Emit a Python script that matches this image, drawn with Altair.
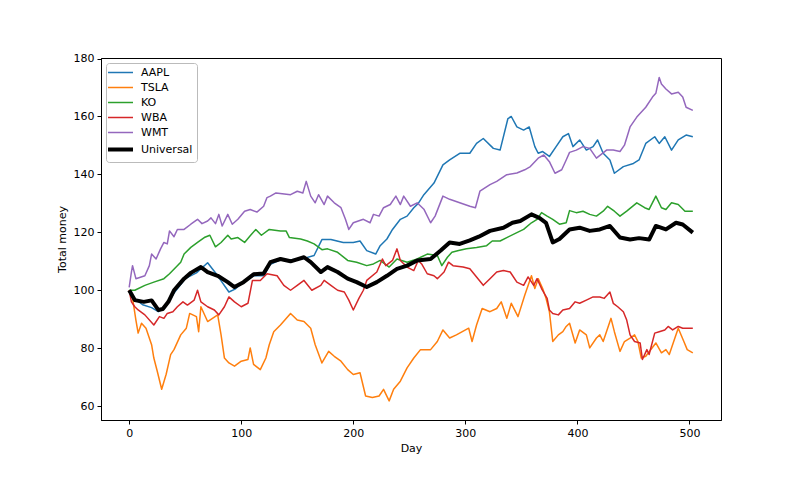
import altair as alt
import pandas as pd

SERIES = ["AAPL", "TSLA", "KO", "WBA", "WMT", "Universal"]
COLORS = ["#1f77b4", "#ff7f0e", "#2ca02c", "#d62728", "#9467bd", "#000000"]

AAPL = [(0,100),(5,97),(12,95),(20,94),(26,92.6),(32,94),(40,99),(50,104),(60,106),(70,109.5),(78,105.5),(89,99.4),(95,100.5),(102,103),(111,105),(120,105),(126,109),(135,110.5),(145,110.5),(156,111),(165,112),(172,117.5),(180,117.5),(191,116.5),(200,116.5),(206,117),(212,113.7),(220,112.5),(224,115.4),(230,117.7),(235,121),(242,124.5),(248,125.6),(254,128.5),(258,130),(263,133),(272,137),(280,143.3),(286,145),(295,147.3),(304,147.3),(310,150.7),(316,152.4),(325,149),(331,148.4),(338,159.3),(341,160),(346,156.4),(352,155.3),(357,156.4),(362,149.6),(365,147.3),(369,147.9),(375,146.2),(381,149.6),(387,153),(392,154.1),(396,149.6),(402,151.9),(408,148.4),(414,149.6),(418,151.9),(423,147.3),(429,145),(433,140.4),(441,142.7),(450,143.8),(455,145),(461,150.7),(469,153),(473,150.7),(478,153),(484,148.4),(490,151.9),(497,153.6),(503,153)]

TSLA = [(0,100),(3,97.3),(6,89.7),(8,85.2),(11,88.6),(15,86.9),(20,81.2),(22,76.6),(25,72.1),(29,65.8),(33,71),(37,77.8),(40,79.5),(46,84.6),(51,86.9),(54,92),(60,90.9),(62,85.7),(64,94.3),(70,89.2),(79,91.5),(82,84.6),(85,76.6),(89,74.9),(94,73.8),(100,75.5),(106,76.1),(108,80.1),(111,74.4),(117,72.6),(122,76.6),(125,81.2),(129,85.7),(135,88),(144,92),(150,89.7),(156,89.2),(162,86.9),(166,81.2),(172,74.9),(178,78.9),(183,77.2),(189,75.5),(195,72.6),(200,70.9),(206,71.5),(211,63.5),(217,63),(223,63.5),(227,65.8),(232,61.8),(236,65.8),(242,68.6),(248,73.2),(254,76.6),(260,79.5),(263,79.5),(269,79.5),(275,82.3),(280,86.3),(286,83.5),(292,84.6),(303,86.9),(306,82.3),(310,88),(315,93.7),(322,92.6),(328,93.7),(332,96),(337,90.3),(341,95.5),(347,90.9),(353,98.3),(359,105),(362,100.6),(365,104),(369,100.6),(372,97.2),(375,92.6),(378,82.3),(383,84.6),(387,85.7),(390,87.5),(393,88.6),(398,81.8),(402,86.3),(408,84.6),(411,80.1),(417,83.5),(420,84.6),(423,82.3),(430,90.3),(433,85.7),(438,78.9),(442,82.3),(447,83.5),(451,84.6),(454,82.3),(457,76.6),(461,77.2),(470,81.8),(475,78.4),(479,79.5),(482,77.8),(487,83.5),(490,86.9),(495,82.3),(498,79.5),(503,78.4)]

KO = [(0,100),(5,100),(14,101.7),(22,102.8),(31,104),(36,105.7),(46,109.7),(49,112.5),(55,114.8),(61,116.5),(67,118.2),(72,119),(77,115),(82,116.5),(88,119),(91,117.7),(97,118.2),(103,116.5),(108,118.8),(113,121),(118,119),(125,121),(135,120.5),(140,120.5),(143,118.2),(153,117.7),(159,117),(165,116),(172,114),(177,114.3),(186,113.1),(195,110.3),(203,109.7),(212,108.5),(218,109.1),(224,110.3),(232,108),(239,110.8),(248,109.7),(257,110.8),(266,112.5),(275,112),(279,108.5),(284,111.4),(288,113.1),(294,113.7),(301,114.3),(310,114.8),(319,115.4),(324,117),(331,117),(337,118.2),(346,119.9),(352,121),(359,123.3),(364,124.5),(368,126.8),(373,125.6),(378,124.5),(384,122.8),(390,123.3),(393,127.5),(399,126.8),(405,127.3),(411,126.2),(417,125.6),(423,127.3),(427,129),(433,127.3),(438,125.6),(444,127.3),(453,130.2),(460,128.5),(464,127.9),(470,132.5),(475,128.5),(479,127.9),(484,130.2),(490,129.6),(496,127.3),(503,127.3)]

WBA = [(0,100),(2,96),(5,94.3),(8,93.2),(14,91.5),(22,88),(27,90.9),(31,90.3),(34,92),(39,92.6),(43,94.3),(48,96),(52,94.9),(58,96.6),(61,100),(64,96),(70,94.3),(76,93.2),(80,91.5),(85,94.3),(89,97.7),(94,96),(100,94.3),(106,95.5),(110,103.4),(117,103.4),(123,105.7),(132,105),(138,101.7),(144,100),(150,101.7),(156,103.4),(163,100),(171,101.7),(174,103.4),(180,101.7),(186,100),(192,99.4),(196,96.6),(200,93.2),(205,97.2),(209,100),(212,103.4),(221,106.3),(226,110.8),(229,108.5),(235,110.3),(239,114.3),(242,110.3),(248,108),(254,106.8),(258,110.3),(261,109.1),(266,105.7),(272,105),(275,104),(281,106.3),(285,109.7),(289,108.5),(298,108),(304,107.4),(310,104.6),(316,101.7),(322,104),(328,106.3),(334,106.8),(340,106.3),(346,102.8),(352,101.7),(356,104.6),(361,101.7),(364,104),(368,100.6),(373,97.2),(375,93.2),(378,92),(383,91.5),(387,93.2),(393,93.7),(398,96),(402,95.5),(408,96.6),(414,97.7),(420,97.7),(424,97.2),(429,99.4),(432,95.5),(436,94.3),(441,92.6),(444,89.7),(447,84.6),(451,82.3),(456,81.8),(458,76.1),(462,79.5),(464,77.8),(469,85.2),(473,85.7),(478,86.3),(481,87.5),(485,86.3),(490,87.5),(494,86.9),(503,86.9)]

WMT = [(0,101),(2,106.3),(3,108.5),(6,104),(14,105),(18,108.5),(20,112.5),(24,110.8),(28,114.3),(31,116.5),(34,116),(36,120.5),(40,118.5),(43,121),(49,121),(55,122.8),(61,124.5),(65,123),(70,123.9),(73,125),(77,123),(80,126.2),(83,122.2),(88,126.2),(92,122.8),(97,124.5),(103,127.3),(108,127.9),(114,127),(120,129),(123,132),(126,132.5),(131,133.6),(144,133),(150,134.2),(155,133.6),(158,137.6),(162,132.5),(166,130.2),(169,133),(174,129.6),(177,132.5),(183,130.2),(189,128.5),(193,124.5),(196,121),(200,123.3),(209,124.5),(215,123.3),(218,126.2),(223,125.6),(227,128.5),(233,129.6),(238,132.5),(242,129.6),(245,132.5),(251,129),(257,130.2),(263,128),(269,123.3),(273,125.6),(280,132.5),(286,131.4),(295,130.2),(304,129),(309,128.5),(313,134.2),(322,136.5),(328,137.6),(337,139.9),(346,140.5),(353,141.6),(358,142.7),(365,145.6),(370,146.7),(375,144.4),(380,140.4),(386,141.6),(390,145),(393,147.6),(399,148.4),(405,149.6),(411,149),(417,145.6),(426,148.4),(432,148.4),(438,147.9),(442,150.1),(447,156.4),(453,159.8),(461,163.2),(467,166.7),(470,168),(473,173.5),(475,171.2),(479,169.5),(484,167.8),(490,168.4),(494,166.7),(497,163.2),(503,162.1)]

UNIVERSAL = [(0,100),(5,96.6),(13,96),(20,96.5),(26,93.2),(30,93.5),(35,96),(40,100),(49,104),(55,106),(64,108),(70,106.3),(79,105),(88,102.8),(94,101.1),(102,102.8),(111,105.5),(120,105.8),(126,109.7),(135,110.8),(144,110),(156,111.4),(162,109.7),(171,106.3),(177,108),(186,106.3),(195,104),(203,102.8),(212,101.1),(221,102.8),(230,105),(239,107.4),(248,108.5),(257,110.3),(269,110.8),(278,113.7),(286,116.5),(295,116),(304,117.2),(312,118.5),(322,120.5),(334,121.6),(342,123.3),(349,123.9),(359,126.2),(366,125),(372,123.3),(378,116.5),(384,117.7),(393,121),(402,121.6),(411,120.5),(420,121),(429,122.2),(438,118.2),(447,117.5),(455,118),(464,117.5),(470,122.2),(479,121),(488,123.3),(494,122.7),(503,119.9)]

X_TICKS = [0, 100, 200, 300, 400, 500]
Y_TICKS = [60, 80, 100, 120, 140, 160, 180]

rows = []
for name, pts in zip(SERIES, [AAPL, TSLA, KO, WBA, WMT, UNIVERSAL]):
    for d, v in pts:
        rows.append({"series": name, "day": d, "money": v})
df = pd.DataFrame(rows)

FONT = "DejaVu Sans"

x = alt.X("day:Q", scale=alt.Scale(domain=[-25.15, 528.15], nice=False, zero=False),
          axis=alt.Axis(values=X_TICKS, title="Day", titlePadding=4))
y = alt.Y("money:Q", scale=alt.Scale(domain=[55.2, 180.2], nice=False, zero=False),
          axis=alt.Axis(values=Y_TICKS, title="Total money", titlePadding=6))
color = alt.Color(
    "series:N",
    scale=alt.Scale(domain=SERIES, range=COLORS),
    legend=alt.Legend(
        title=None,
        symbolStrokeWidth=alt.ExprRef("datum.value === 'Universal' ? 4 : 1.5"),
    ),
)

stocks = alt.Chart(df).transform_filter(alt.datum.series != "Universal").mark_line(
    strokeWidth=1.5, strokeJoin="round"
).encode(x=x, y=y, color=color, detail="series:N")
uni = alt.Chart(df).transform_filter(alt.datum.series == "Universal").mark_line(
    strokeWidth=4, strokeJoin="round"
).encode(x=x, y=y, color=color, detail="series:N")

chart = alt.layer(stocks, uni).properties(
    width=620, height=362,
    autosize=alt.AutoSizeParams(type="none"),
    padding={"left": 93, "top": 50, "right": 71, "bottom": 52},
    background="white",
).configure_view(
    stroke="black", strokeWidth=1
).configure_axis(
    grid=False, domainColor="black", tickColor="black", labelColor="black", titleColor="black",
    labelFont=FONT, titleFont=FONT, labelFontSize=11, titleFontSize=11, titleFontWeight="normal",
    tickSize=4, labelPadding=3
).configure_legend(
    orient="top-left", offset=5, padding=4, fillColor="white", strokeColor="#bbbbbb",
    strokeWidth=1, cornerRadius=3, symbolType="stroke", symbolSize=625, symbolOffset=5,
    labelFont=FONT, labelFontSize=11, labelColor="black", rowPadding=3, labelOffset=15
)

chart.save("out.html", embed_options={"renderer": "svg", "actions": False})
